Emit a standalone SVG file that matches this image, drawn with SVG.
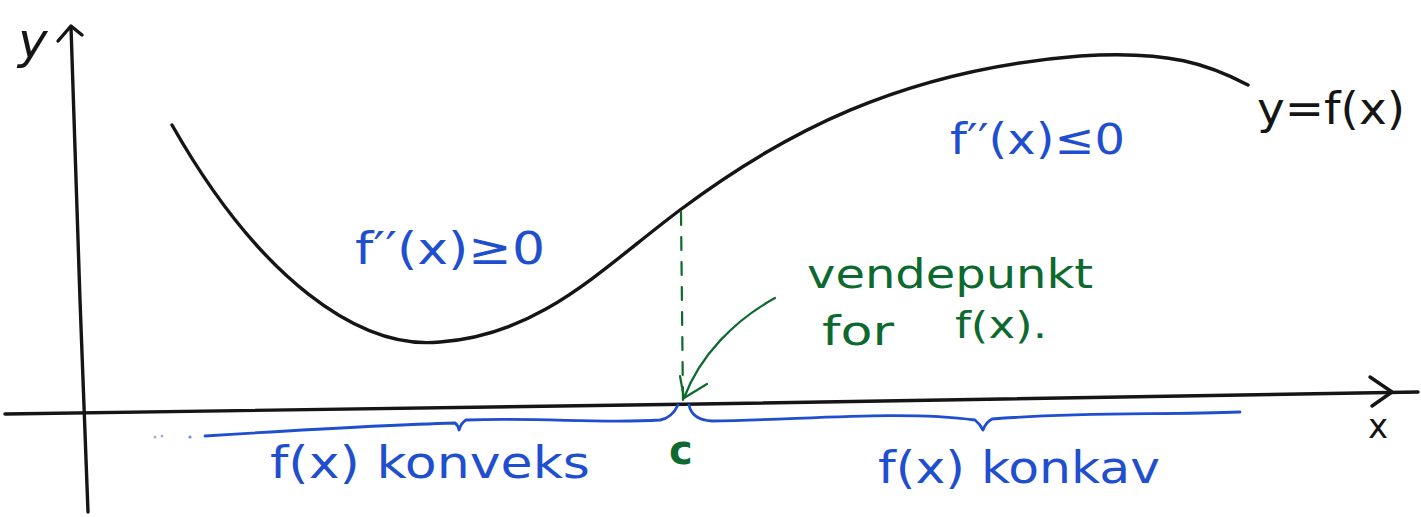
<svg xmlns="http://www.w3.org/2000/svg" width="1421" height="517" viewBox="0 0 1421 517">
<style>
.ink{fill:none;stroke:#151515;stroke-width:3.4;stroke-linecap:round;stroke-linejoin:round}
.blue{fill:none;stroke:#1f4fcf;stroke-width:2.8;stroke-linecap:round;stroke-linejoin:round}
.green{fill:none;stroke:#0d6a2f;stroke-width:2.2;stroke-linecap:round;stroke-linejoin:round}
.t{font-family:"DejaVu Sans","Liberation Sans",sans-serif}
.tb{fill:#1f4fcf}
.tg{fill:#0d6a2f}
.tk{fill:#151515}
</style>
<rect width="1421" height="517" fill="#ffffff"/>
<g id="axes">
  <path class="ink" d="M5,414 L700,404 L1418,392"/>
  <path class="ink" d="M1370,377 L1392,392 L1372,406"/>
  <path class="ink" d="M71,27 L80,300 L88,512"/>
  <path class="ink" d="M58,41 L71,26 L82,35"/>
  <text class="t tk" x="18" y="58" font-size="50" font-style="italic">y</text>
  <text class="t tk" x="1368" y="438" font-size="34">x</text>
</g>
<g id="curve">
  <path class="ink" d="M172,125 C260,280 360,350 440,342 C540,335 600,270 680,210 C780,135 900,70 1080,56 C1170,50 1210,65 1248,85"/>
  <text class="t tk" x="1257" y="124" font-size="44" textLength="148" lengthAdjust="spacingAndGlyphs">y=f(x)</text>
</g>
<g id="convex-label">
  <text class="t tb" x="355" y="264" font-size="44" textLength="190" lengthAdjust="spacingAndGlyphs">f′′(x)≥0</text>
</g>
<g id="concave-label">
  <text class="t tb" x="950" y="154" font-size="42" textLength="175" lengthAdjust="spacingAndGlyphs">f′′(x)≤0</text>
</g>
<g id="inflection">
  <text class="t tg" x="807" y="288" font-size="40" textLength="286" lengthAdjust="spacingAndGlyphs">vendepunkt</text>
  <text class="t tg" x="822" y="345" font-size="40" textLength="72" lengthAdjust="spacingAndGlyphs">for</text>
  <text class="t tg" x="955" y="338" font-size="38" textLength="92" lengthAdjust="spacingAndGlyphs">f(x).</text>
  <text class="t tg" x="669" y="464" font-size="40" font-weight="bold">c</text>
</g>
<g id="brace-left">
  <path class="blue" d="M205,436 C300,430 380,425 455,423 Q458,425 459,430 Q461,423 466,420 C540,417 600,424 660,420 Q672,418 678,405"/>
  <circle cx="155" cy="437" r="1.5" fill="#9fb2e6"/>
  <circle cx="162" cy="436" r="1.5" fill="#9fb2e6"/>
  <circle cx="190" cy="437" r="1.6" fill="#6f8ddb"/>
  <text class="t tb" x="270" y="478" font-size="44" textLength="320" lengthAdjust="spacingAndGlyphs">f(x) konveks</text>
</g>
<g id="brace-right">
  <path class="blue" d="M689,405 Q692,420 712,421 C800,420 900,410 975,420 Q980,424 983,430 Q986,422 992,419 C1080,412 1160,415 1240,412"/>
  <text class="t tb" x="878" y="483" font-size="44" textLength="282" lengthAdjust="spacingAndGlyphs">f(x) konkav</text>
</g>
<g id="connectors">
  <path class="green" stroke-width="3" stroke-dasharray="13,12" d="M681,212 L683,403"/>
  <path class="green" d="M775,298 C735,320 700,355 684,398"/>
  <path class="green" stroke-width="3.2" d="M684,398 L707,384 M684,398 L680,376"/>
</g>
</svg>
